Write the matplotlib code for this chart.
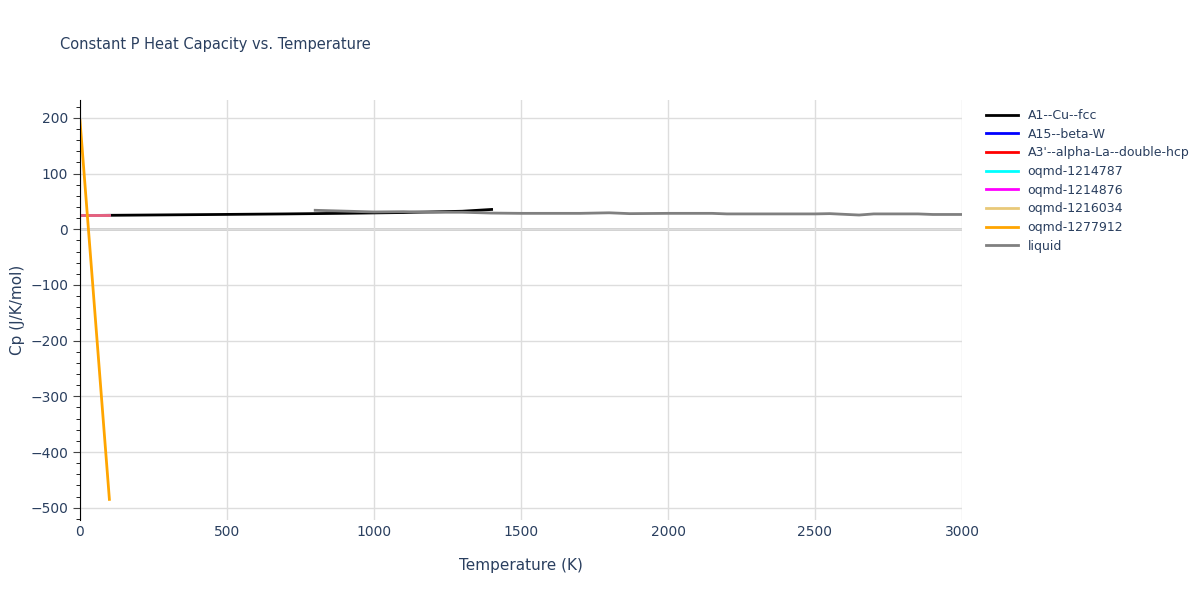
import matplotlib
matplotlib.use("Agg")
import matplotlib.pyplot as plt
from matplotlib.ticker import MultipleLocator

T_fcc = [0, 100, 300, 500, 700, 900, 1100, 1300, 1400]
cp_fcc = [24.5, 25.0, 25.8, 26.6, 27.5, 28.6, 30.0, 32.3, 35.5]
T_short = [0, 100]
cp_a15 = [25, 25]
cp_la = [25, 25]
cp_1214787 = [25, 25]
cp_1214876 = [25, 25]
cp_1216034 = [25, 25]
cp_1277912 = [195, -485]
T_liq = [800, 900, 1000, 1100, 1200, 1300, 1400, 1500, 1700, 1800, 1870, 2000, 2150, 2200, 2400, 2500, 2550, 2650, 2700, 2850, 2900, 3000]
cp_liq = [34, 32.5, 31, 31.5, 30.5, 30.5, 29, 28.5, 28.5, 29.5, 28, 28.5, 28.5, 27.5, 27.5, 27.5, 28, 25.5, 27.5, 27.5, 26.5, 26.5]

fig = plt.figure(figsize=(12, 6), dpi=100)
ax = fig.add_axes([80/1200, 80/600, 882/1200, 420/600])
ax.plot(T_fcc, cp_fcc, color="black", lw=2, label="A1--Cu--fcc")
ax.plot(T_short, cp_a15, color="blue", lw=2, label="A15--beta-W")
ax.plot(T_short, cp_la, color="red", lw=2, label="A3'--alpha-La--double-hcp")
ax.plot(T_short, cp_1214787, color="cyan", lw=2, label="oqmd-1214787")
ax.plot(T_short, cp_1214876, color="magenta", lw=2, label="oqmd-1214876")
ax.plot(T_short, cp_1216034, color="#DAA520", lw=2, alpha=0.6, label="oqmd-1216034")
ax.plot(T_short, cp_1277912, color="orange", lw=2, label="oqmd-1277912")
ax.plot(T_liq, cp_liq, color="gray", lw=2, label="liquid")

ax.set_xlim(0, 3000)
ax.set_ylim(-522, 232)
ax.xaxis.set_major_locator(MultipleLocator(500))
ax.yaxis.set_major_locator(MultipleLocator(100))
ax.yaxis.set_minor_locator(MultipleLocator(20))
ax.xaxis.set_minor_locator(MultipleLocator(100))
ax.grid(True, color="#dddddd", lw=1)
ax.axhline(0, color="#cccccc", lw=2, zorder=0)
for s in ["top", "right"]:
    ax.spines[s].set_visible(False)
ax.spines["bottom"].set_visible(False)
ax.tick_params(colors="#444444", labelcolor="#2a3f5f", labelsize=10)
ax.tick_params(axis="x", which="both", length=0)
ax.tick_params(axis="y", which="major", length=5, direction="out")
ax.tick_params(axis="y", which="minor", length=3)
ax.set_xlabel("Temperature (K)", color="#2a3f5f", fontsize=11, labelpad=14)
ax.set_ylabel("Cp (J/K/mol)", color="#2a3f5f", fontsize=11)
fig.text(60/1200, 1 - 45/600, "Constant P Heat Capacity vs. Temperature", fontsize=10.5, color="#2a3f5f", va="center")
leg = ax.legend(loc="upper left", bbox_to_anchor=(1.015, 1.005), frameon=False, fontsize=9, labelcolor="#2a3f5f", handlelength=2.5, labelspacing=0.45)
fig.savefig("out.png")
